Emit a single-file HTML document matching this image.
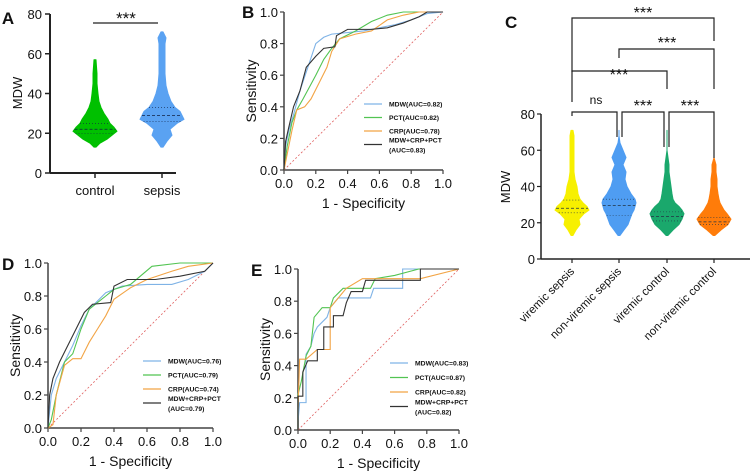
<!DOCTYPE html>
<html><head><meta charset="utf-8"><style>
html,body{margin:0;padding:0;background:#fff;}
svg{display:block;font-family:"Liberation Sans",Arial,sans-serif;}
</style></head><body>
<svg id="fig" width="750" height="474" viewBox="0 0 750 474" xmlns="http://www.w3.org/2000/svg"></svg>
<script>
// ---------- data ----------
const aCategories = ["control","sepsis"];
const aTicks = [0,20,40,60,80];
const violinYControl = [13,15,17,19,21,23,25,27,30,33,36,40,45,50,57];
const violinWControl = [1,5,12,17,22,19,15,13,9,6,4,3,2,2,1];
const violinYSepsis = [13,16,19,22,25,27,29,31,33,36,40,44,50,55,60,65,68,71];
const violinWSepsis = [1,5,10,8,15,22,20,18,13,9,6,4,3,3,3,3,4,1];
const aMedians = [22,29];
const aQuartiles = [[20,25],[26,33]];

const rocTicks = [0,0.2,0.4,0.6,0.8,1.0];
const bMDW = [[0,0],[0.01,0.15],[0.03,0.25],[0.06,0.35],[0.1,0.5],[0.15,0.65],[0.2,0.8],[0.25,0.84],[0.3,0.86],[0.4,0.87],[0.5,0.88],[0.6,0.9],[0.7,0.92],[0.8,0.95],[0.9,0.99],[1,1]];
const bPCT = [[0,0],[0.02,0.15],[0.05,0.3],[0.08,0.38],[0.12,0.45],[0.2,0.6],[0.25,0.7],[0.3,0.77],[0.35,0.83],[0.45,0.88],[0.55,0.94],[0.65,0.98],[0.75,1],[1,1]];
const bCRP = [[0,0],[0.02,0.1],[0.05,0.25],[0.08,0.38],[0.13,0.4],[0.17,0.45],[0.22,0.55],[0.27,0.65],[0.3,0.75],[0.35,0.83],[0.45,0.86],[0.55,0.88],[0.65,0.95],[0.75,0.98],[0.85,1],[1,1]];
const bComb = [[0,0],[0.01,0.18],[0.03,0.27],[0.06,0.4],[0.1,0.5],[0.14,0.65],[0.2,0.72],[0.25,0.77],[0.32,0.78],[0.33,0.85],[0.4,0.89],[0.55,0.89],[0.65,0.9],[0.75,0.93],[0.85,0.97],[0.9,1],[1,1]];
const bLegend = ["MDW(AUC=0.82)","PCT(AUC=0.82)","CRP(AUC=0.78)","MDW+CRP+PCT","(AUC=0.83)"];

const dMDW = [[0,0],[0.02,0.2],[0.05,0.3],[0.1,0.4],[0.15,0.5],[0.2,0.62],[0.25,0.72],[0.35,0.82],[0.45,0.86],[0.6,0.87],[0.75,0.87],[0.85,0.9],[0.95,0.95],[1,1]];
const dPCT = [[0,0],[0.02,0.05],[0.05,0.2],[0.1,0.4],[0.15,0.45],[0.2,0.6],[0.25,0.72],[0.3,0.76],[0.35,0.8],[0.4,0.84],[0.5,0.87],[0.63,0.98],[0.8,1],[1,1]];
const dCRP = [[0,0],[0.03,0.02],[0.05,0.2],[0.1,0.38],[0.15,0.42],[0.2,0.42],[0.25,0.52],[0.3,0.6],[0.35,0.68],[0.4,0.78],[0.5,0.85],[0.6,0.9],[0.75,0.95],[0.85,0.98],[1,1]];
const dComb = [[0,0],[0.01,0.2],[0.03,0.3],[0.07,0.4],[0.12,0.5],[0.17,0.6],[0.22,0.7],[0.27,0.75],[0.38,0.76],[0.4,0.86],[0.48,0.9],[0.65,0.9],[0.8,0.92],[0.95,0.95],[1,1]];
const dLegend = ["MDW(AUC=0.76)","PCT(AUC=0.79)","CRP(AUC=0.74)","MDW+CRP+PCT","(AUC=0.79)"];

const eMDW = [[0,0],[0,0.05],[0.01,0.17],[0.05,0.17],[0.05,0.47],[0.08,0.52],[0.1,0.6],[0.12,0.64],[0.18,0.7],[0.2,0.76],[0.25,0.82],[0.45,0.82],[0.47,0.88],[0.65,0.88],[0.65,1],[1,1]];
const ePCT = [[0,0],[0,0.22],[0.02,0.3],[0.05,0.46],[0.08,0.52],[0.1,0.7],[0.15,0.76],[0.2,0.76],[0.22,0.82],[0.28,0.88],[0.45,0.88],[0.48,0.94],[0.6,0.96],[0.75,1],[1,1]];
const eCRP = [[0,0],[0,0.12],[0.01,0.44],[0.05,0.44],[0.12,0.5],[0.2,0.5],[0.2,0.76],[0.25,0.82],[0.3,0.88],[0.4,0.94],[0.76,0.94],[1,1]];
const eComb = [[0,0],[0,0.21],[0.03,0.21],[0.03,0.36],[0.06,0.43],[0.12,0.43],[0.12,0.5],[0.16,0.5],[0.16,0.64],[0.22,0.64],[0.22,0.71],[0.28,0.71],[0.3,0.79],[0.33,0.86],[0.4,0.86],[0.42,0.93],[0.76,0.93],[0.76,1],[1,1]];
const eLegend = ["MDW(AUC=0.83)","PCT(AUC=0.87)","CRP(AUC=0.82)","MDW+CRP+PCT","(AUC=0.82)"];

const cCategories = ["viremic sepsis","non-viremic sepsis","viremic control","non-viremic control"];
const cY = [13,16,19,22,25,27,29,31,33,36,40,44,48,52,56,60,64,68,71];
const cW0 = [1,4,8,7,12,17,15,11,8,6,5,3,2,2,2,2,2,2,1];
const cW1 = [1,5,9,11,13,15,16,17,16,12,8,6,7,4,7,4,1,0,0];
const cW2 = [1,6,12,15,17,15,12,8,6,5,4,3,2,2,1,0,0,0,0];
const cW3 = [1,7,14,17,13,10,8,6,5,4,3,3,2,2,0,0,0,0,0];
const cMedians = [28,29.5,23.5,20.5];
const cQuartiles = [[25.5,32.5],[24,33],[21,26],[19,23]];
const cColors = ["#f7f000","#4f9df2","#1aa86c","#ff7c0a"];

// ---------- helpers ----------
const svg = document.getElementById('fig');
const NS = "http://www.w3.org/2000/svg";
function mk(tag, attrs, parent){
  const e = document.createElementNS(NS, tag);
  for (const k in attrs) e.setAttribute(k, attrs[k]);
  (parent||svg).appendChild(e);
  return e;
}
function txt(x,y,s,size,opts,parent){
  const t = mk('text', Object.assign({x:x,y:y,'font-size':size,fill:'#111','text-anchor':'middle'},opts||{}), parent);
  t.textContent = s;
  return t;
}
function line(x1,y1,x2,y2,st,w,parent){ return mk('line',{x1,y1,x2,y2,stroke:st||'#222','stroke-width':w||1.5},parent); }

function violin(g, cx, ys, ws, ysc, wscale, color){
  let right=[], left=[];
  for (let i=0;i<ys.length;i++){ right.push((cx+ws[i]*wscale)+','+ysc(ys[i])); }
  for (let i=ys.length-1;i>=0;i--){ left.push((cx-ws[i]*wscale)+','+ysc(ys[i])); }
  const p = mk('polygon',{points:right.concat(left).join(' '),fill:color,stroke:color,'stroke-width':1,'stroke-linejoin':'round'},g);
  
  
}
function widthAt(ys, ws, v){
  for (let i=0;i<ys.length-1;i++){ if (v>=ys[i] && v<=ys[i+1]) return ws[i]+(ws[i+1]-ws[i])*(v-ys[i])/(ys[i+1]-ys[i]); }
  return 0;
}

// ---------- Panel A ----------
(function(){
  const g = mk('g',{});  
  const x0=50, x1=176, yTop=14, yBot=173;
  const ys = v => yBot - (v/80)*(yBot-yTop);
  const cx = [95,162];
  txt(8,24,'A',17,{'font-weight':'bold'},g);
  line(x0,yTop,x0,yBot,'#222',2,g); line(x0,yBot,x1,yBot,'#222',2,g);
  aTicks.forEach(t=>{ line(x0-5,ys(t),x0,ys(t),'#222',1.5,g); txt(x0-8,ys(t)+5,String(t),13,{'text-anchor':'end'},g); });
  const yl = txt(22,93,'MDW',13,{transform:'rotate(-90 22 93)'},g); 
  const sets=[[violinYControl,violinWControl,'#00c000'],[violinYSepsis,violinWSepsis,'#5aa2f2']];
  sets.forEach((s,i)=>{
    violin(g,cx[i],s[0],s[1],ys,1,s[2]);
    line(cx[i],yBot,cx[i],yBot+5,'#222',1.5,g);
    txt(cx[i],195,aCategories[i],13,{},g);
    const m = aMedians[i], wm = widthAt(s[0],s[1],m);
    mk('line',{x1:cx[i]-wm,x2:cx[i]+wm,y1:ys(m),y2:ys(m),stroke:'#124','stroke-width':0.8,'stroke-dasharray':'3,2'},g);
    aQuartiles[i].forEach(q=>{ const wq=widthAt(s[0],s[1],q); mk('line',{x1:cx[i]-wq,x2:cx[i]+wq,y1:ys(q),y2:ys(q),stroke:'#124','stroke-width':0.6,'stroke-dasharray':'1,2'},g); });
  });
  line(93,23,158,23,'#222',1.2,g);
  txt(126,24,'***',17,{},g);
})();

// ---------- ROC panels ----------
function rocPanel(name,letter,lx,ly,x0,x1,yTop,yBot,series,legend,leg){
  const g = mk('g',{});  
  const xs = v => x0 + v*(x1-x0);
  const ys = v => yBot - v*(yBot-yTop);
  txt(lx,ly,letter,17,{'font-weight':'bold','text-anchor':'start'},g);
  line(x0,yTop,x0,yBot,'#444',1.5,g); line(x0,yBot,x1,yBot,'#444',1.5,g);
  rocTicks.forEach(t=>{
    line(x0-4,ys(t),x0,ys(t),'#444',1.2,g); txt(x0-6,ys(t)+5,t.toFixed(1),13,{'text-anchor':'end'},g);
    line(xs(t),yBot,xs(t),yBot+4,'#444',1.2,g); txt(xs(t),yBot+18,t.toFixed(1),13,{},g);
  });
  const xt = txt((x0+x1)/2,yBot+38,'1 - Specificity',14,{},g); 
  const yc=(yTop+yBot)/2, yx=x0-28;
  const yt = txt(yx,yc,'Sensitivity',14,{transform:'rotate(-90 '+yx+' '+yc+')'},g); 
  mk('line',{x1:xs(0),y1:ys(0),x2:xs(1),y2:ys(1),stroke:'#e06060','stroke-width':0.8,'stroke-dasharray':'2,2'},g);
  const colors=['#7fb3e6','#52c452','#f2a445','#333'];
  series.forEach((s,i)=>{
    const p = mk('polyline',{points:s.map(d=>xs(d[0])+','+ys(d[1])).join(' '),fill:'none',stroke:colors[i],'stroke-width':1.1},g);
    
    
  });
  const [lxl,lyl,sp]=leg;
  for(let i=0;i<4;i++){
    const y = lyl + i*sp;
    line(lxl,y,lxl+18,y,colors[i],1.2,g);
    const t = txt(lxl+25,(i<3?y+2.5:y-2),legend[i],6.8,{'text-anchor':'start','font-weight':'bold'},g);
    
  }
  txt(lxl+25,lyl+3*sp+8,legend[4],6.8,{'text-anchor':'start','font-weight':'bold'},g);
}
rocPanel('panel-b','B',242,18,284,443,12,170,[bMDW,bPCT,bCRP,bComb],bLegend,[364,104,13.5]);
rocPanel('panel-d','D',2,270,48,213,263,428,[dMDW,dPCT,dCRP,dComb],dLegend,[143,361,14]);
rocPanel('panel-e','E',251,276,298,459,269,430,[eMDW,ePCT,eCRP,eComb],eLegend,[390,363,14.5]);

// ---------- Panel C ----------
(function(){
  const g = mk('g',{});  
  const x0=541, x1=750, yTop=114, yBot=259;
  const ys = v => yBot - (v/80)*(yBot-yTop);
  const cx=[572,619,667,714];
  txt(505,28,'C',17,{'font-weight':'bold','text-anchor':'start'},g);
  line(x0,yTop,x0,yBot,'#222',1.5,g); line(x0,yBot,x1,yBot,'#222',1.5,g);
  aTicks.forEach(t=>{ line(x0-4,ys(t),x0,ys(t),'#222',1.2,g); txt(x0-6,ys(t)+5,String(t),13,{'text-anchor':'end'},g); });
  const yl = txt(510,187,'MDW',13,{transform:'rotate(-90 510 187)'},g); 
  const W=[cW0,cW1,cW2,cW3];
  W.forEach((w,i)=>{
    violin(g,cx[i],cY,w,ys,1,cColors[i]);
    line(cx[i],yBot,cx[i],yBot+4,'#222',1.2,g);
    const m=cMedians[i], wm=widthAt(cY,w,m);
    mk('line',{x1:cx[i]-wm,x2:cx[i]+wm,y1:ys(m),y2:ys(m),stroke:'#234','stroke-width':0.8,'stroke-dasharray':'3,2'},g);
    cQuartiles[i].forEach(q=>{ const wq=widthAt(cY,w,q); mk('line',{x1:cx[i]-wq,x2:cx[i]+wq,y1:ys(q),y2:ys(q),stroke:'#234','stroke-width':0.6,'stroke-dasharray':'1,2'},g); });
    const lab = txt(cx[i]+3,272,cCategories[i],11.5,{'text-anchor':'end',transform:'rotate(-45 '+(cx[i]+3)+' 272)'},g);
    
  });
  function bracket(xa,xb,y,ya,yb,label,lx,ly){
    mk('polyline',{points:xa+','+ya+' '+xa+','+y+' '+xb+','+y+' '+xb+','+yb,fill:'none',stroke:'#222','stroke-width':1.2},g);
    txt(lx,ly,label,label==='ns'?12:16,{},g);
  }
  bracket(572,714,18,72,41,'***',643,18);
  bracket(619,714,49,58,89,'***',667,48);
  bracket(572,667,71,102,89,'***',619,80);
  bracket(572,617,112,116,137,'ns',596,104);
  bracket(622,664,112,137,147,'***',643,111);
  bracket(669,714,112,147,158,'***',690,111);
})();
</script>
</body></html>
